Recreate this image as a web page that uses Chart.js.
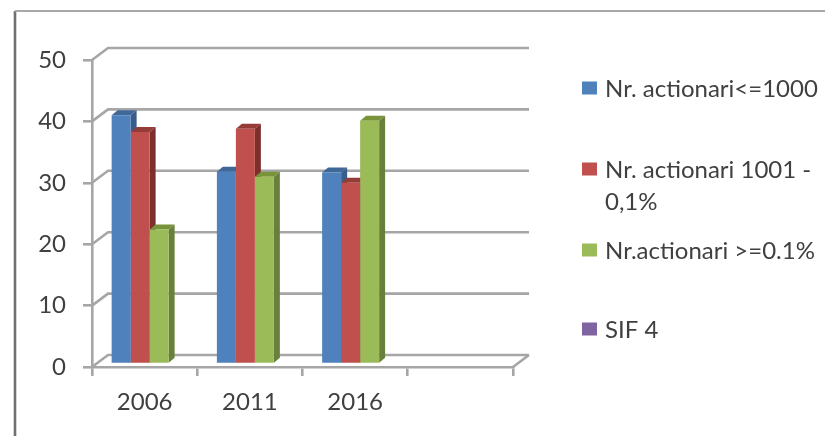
<!DOCTYPE html>
<html>
<head>
<meta charset="utf-8">
<style>
html,body{margin:0;padding:0;background:#fff;width:825px;height:436px;overflow:hidden}
#wrap{position:relative;width:825px;height:436px}
canvas{display:block;filter:blur(0.7px)}
</style>
<script src="https://cdn.jsdelivr.net/npm/chart.js@4"></script>
</head>
<body>
<div id="wrap"><canvas id="c" width="825" height="436"></canvas></div>
<script>
const categories = ['2006', '2011', '2016', ''];
const seriesA = [40.5, 31.3, 31.2, null];
const seriesB = [37.8, 38.3, 29.5, null];
const seriesC = [21.9, 30.5, 39.6, null];
const seriesD = [null, null, null, null];
const seriesNames = ['Nr. actionari<=1000', 'Nr. actionari 1001 - 0,1%', 'Nr.actionari >=0.1%', 'SIF 4'];
const legendLines = [['Nr. actionari<=1000'], ['Nr. actionari 1001 -', '0,1%'], ['Nr.actionari >=0.1%'], ['SIF 4']];
const faceColors = ['#4f81bd', '#c0504d', '#9bbb59', '#8064a2'];
const sideColors = ['#385d8a', '#7e2f2d', '#68803b', '#57426f'];
const topColors = ['#3f6797', '#953c39', '#789339', '#644e80'];

const FONT = 'Lato, Carlito, sans-serif';
const GRID = '#a6a6a6';
const TEXT = '#404040';
const WALL = {dx: 16, dy: -12};
const BAR_SHIFT = {dx: 5, dy: -3};
const DEPTH = {dx: 6, dy: -5};
const LEGEND_ROWS = [88, 169, 250, 329];

const scene = {
  id: 'scene',
  beforeDatasetsDraw(chart) {
    const {ctx, scales: {x, y}} = chart;
    const l = x.left, r = x.right, b = y.getPixelForValue(0);
    ctx.save();
    ctx.strokeStyle = GRID;
    ctx.lineWidth = 2.6;
    ctx.beginPath();
    y.ticks.forEach(t => {
      const py = y.getPixelForValue(t.value);
      ctx.moveTo(l, py);
      ctx.lineTo(l + WALL.dx, py + WALL.dy);
      ctx.lineTo(r + WALL.dx, py + WALL.dy);
    });
    ctx.moveTo(r, b);
    ctx.lineTo(r + WALL.dx, b + WALL.dy);
    ctx.stroke();
    ctx.translate(BAR_SHIFT.dx, BAR_SHIFT.dy);
    chart.data.datasets.forEach((ds, i) => {
      chart.getDatasetMeta(i).data.forEach((bar, j) => {
        if (ds.data[j] == null) return;
        const p = bar.getProps(['x', 'y', 'base', 'width'], true);
        const x0 = p.x - p.width / 2, x1 = p.x + p.width / 2;
        ctx.fillStyle = sideColors[i];
        ctx.beginPath();
        ctx.moveTo(x1, p.y);
        ctx.lineTo(x1 + DEPTH.dx, p.y + DEPTH.dy);
        ctx.lineTo(x1 + DEPTH.dx, p.base + DEPTH.dy);
        ctx.lineTo(x1, p.base);
        ctx.closePath();
        ctx.fill();
        ctx.fillStyle = topColors[i];
        ctx.beginPath();
        ctx.moveTo(x0, p.y);
        ctx.lineTo(x0 + DEPTH.dx, p.y + DEPTH.dy);
        ctx.lineTo(x1 + DEPTH.dx, p.y + DEPTH.dy);
        ctx.lineTo(x1, p.y);
        ctx.closePath();
        ctx.fill();
      });
    });
    ctx.restore();
    ctx.save();
    ctx.translate(BAR_SHIFT.dx, BAR_SHIFT.dy);
  },
  afterDatasetsDraw(chart) {
    chart.ctx.restore();
  },
  afterDraw(chart) {
    const {ctx} = chart;
    ctx.save();
    ctx.strokeStyle = '#6f6f6f';
    ctx.lineWidth = 2.6;
    ctx.beginPath();
    ctx.moveTo(15, 436);
    ctx.lineTo(15, 11);
    ctx.stroke();
    ctx.strokeStyle = '#a8a8a8';
    ctx.lineWidth = 1.8;
    ctx.beginPath();
    ctx.moveTo(15, 11);
    ctx.lineTo(825, 11);
    ctx.stroke();
    ctx.font = '24px ' + FONT;
    ctx.textBaseline = 'middle';
    legendLines.forEach((lines, i) => {
      ctx.fillStyle = faceColors[i];
      ctx.fillRect(582, LEGEND_ROWS[i] - 6.5, 15, 13);
      ctx.fillStyle = TEXT;
      lines.forEach((line, k) => ctx.fillText(line, 605, LEGEND_ROWS[i] + 1 + k * 32));
    });
    ctx.restore();
  }
};

new Chart(document.getElementById('c'), {
  type: 'bar',
  data: {
    labels: categories,
    datasets: [seriesA, seriesB, seriesC, seriesD].map((d, i) => ({
      label: seriesNames[i],
      data: d,
      backgroundColor: faceColors[i],
      borderWidth: 0,
      barPercentage: 1,
      categoryPercentage: 0.722
    }))
  },
  options: {
    responsive: false,
    animation: false,
    layout: {padding: {top: 60, right: 312, left: 0, bottom: 0}},
    plugins: {legend: {display: false}, title: {display: false}, tooltip: {enabled: false}},
    scales: {
      x: {
        afterFit(s) { s.height = 69; },
        border: {color: GRID, width: 2.6},
        grid: {drawOnChartArea: false, color: GRID, lineWidth: 2.6, tickLength: 9},
        ticks: {color: TEXT, font: {family: FONT, size: 24}, padding: 12, maxRotation: 0, autoSkip: false}
      },
      y: {
        min: 0, max: 50,
        afterFit(s) { s.width = 92; },
        border: {color: GRID, width: 2.6},
        grid: {drawOnChartArea: false, color: GRID, lineWidth: 2.6, tickLength: 9},
        ticks: {stepSize: 10, color: TEXT, font: {family: FONT, size: 24}, padding: 17}
      }
    }
  },
  plugins: [scene]
});
</script>
</body>
</html>
